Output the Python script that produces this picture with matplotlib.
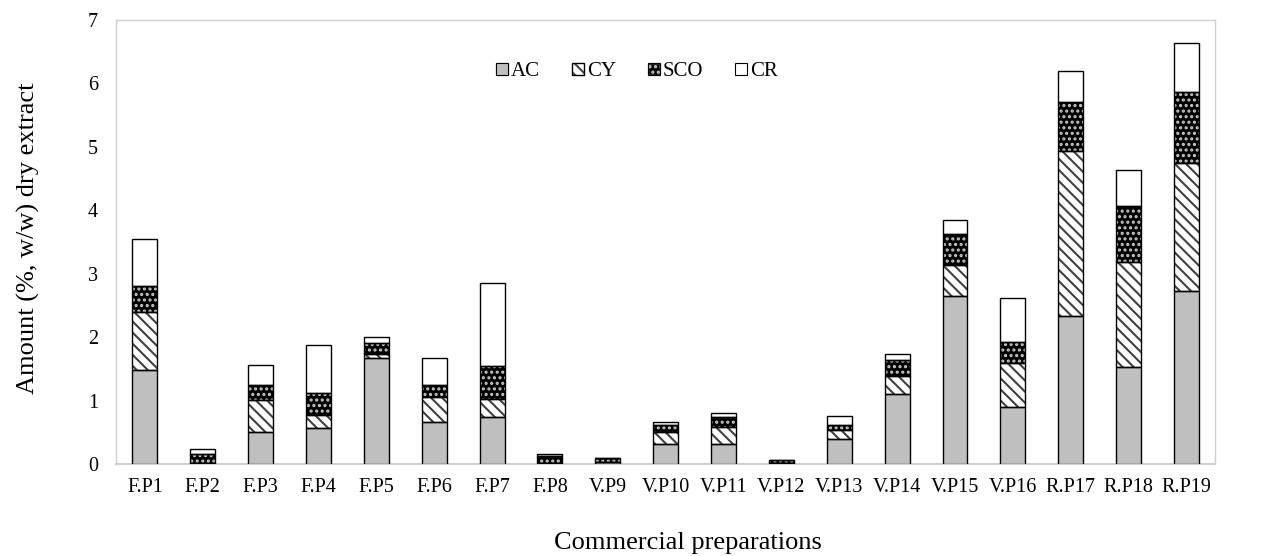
import matplotlib
matplotlib.use("Agg")
import matplotlib.pyplot as plt
import numpy as np
from matplotlib.patches import Patch

# values (%, w/w dry extract)
preparations = ["F.P1", "F.P2", "F.P3", "F.P4", "F.P5", "F.P6", "F.P7", "F.P8",
                "V.P9", "V.P10", "V.P11", "V.P12", "V.P13", "V.P14", "V.P15",
                "V.P16", "R.P17", "R.P18", "R.P19"]
ac = [1.48, 0.00, 0.51, 0.56, 1.67, 0.66, 0.74, 0.00, 0.03, 0.32, 0.32, 0.01,
      0.39, 1.10, 2.65, 0.90, 2.33, 1.53, 2.73]
cy = [0.92, 0.01, 0.50, 0.21, 0.06, 0.40, 0.29, 0.02, 0.00, 0.18, 0.26, 0.00,
      0.14, 0.28, 0.49, 0.69, 2.61, 1.65, 2.02]
sco = [0.41, 0.15, 0.24, 0.35, 0.17, 0.19, 0.51, 0.10, 0.06, 0.12, 0.16, 0.05,
       0.08, 0.26, 0.48, 0.33, 0.76, 0.88, 1.12]
cr = [0.74, 0.07, 0.31, 0.76, 0.11, 0.42, 1.32, 0.03, 0.00, 0.04, 0.07, 0.00,
      0.15, 0.09, 0.23, 0.70, 0.49, 0.57, 0.77]
yticks = [0, 1, 2, 3, 4, 5, 6, 7]


def main() -> None:
    plt.rcParams["font.family"] = ["Liberation Serif", "DejaVu Serif"]
    plt.rcParams["font.size"] = 14.5
    plt.rcParams["hatch.linewidth"] = 1.5

    fig = plt.figure(figsize=(12.7, 5.56), dpi=100)
    ax = fig.add_axes([0.0913, 0.1655, 0.8657, 0.7985])

    x = np.arange(len(preparations))
    width = 0.43
    ac_a = np.array(ac)
    cy_a = np.array(cy)
    sco_a = np.array(sco)
    cr_a = np.array(cr)
    bottoms = [np.zeros(len(x)), ac_a, ac_a + cy_a, ac_a + cy_a + sco_a]
    values = [ac_a, cy_a, sco_a, cr_a]

    # fill + hatch layer, then black outline on top
    styles = [
        dict(facecolor="#bfbfbf", edgecolor="#bfbfbf", hatch=None),
        dict(facecolor="white", edgecolor="#404040", hatch="\\\\\\"),
        dict(facecolor="black", edgecolor="#c8c8c8", hatch="..."),
        dict(facecolor="white", edgecolor="white", hatch=None),
    ]
    for vals, bot, st in zip(values, bottoms, styles):
        ax.bar(x, vals, width, bottom=bot, linewidth=0, zorder=2, **st)
        ax.bar(x, vals, width, bottom=bot, facecolor="none", edgecolor="black",
               linewidth=1.0, zorder=3)

    ax.set_xlim(-0.5, len(x) - 0.5)
    ax.set_ylim(0, 7)
    ax.set_yticks(yticks)
    ax.set_xticks(x)
    ax.set_xticklabels(preparations)
    ax.tick_params(axis="both", length=0)
    ax.tick_params(axis="x", pad=10)
    ax.tick_params(axis="y", pad=13)
    for spine in ax.spines.values():
        spine.set_color("#cfcfcf")
        spine.set_linewidth(1.0)
    ax.spines["bottom"].set_linewidth(1.5)

    # axis titles sit where the reference puts them (slightly right of centre)
    fig.text(0.5417, 0.0125, "Commercial preparations", fontsize=19,
             ha="center", va="baseline")
    fig.text(0.0225, 0.572, "Amount (%, w/w) dry extract", fontsize=19,
             rotation=90, ha="center", va="center")

    outline = dict(facecolor="none", edgecolor="black", linewidth=0.8)
    handles = [
        (Patch(facecolor="#bfbfbf", edgecolor="#bfbfbf"), Patch(**outline)),
        (Patch(facecolor="white", edgecolor="#404040", hatch="\\\\\\"), Patch(**outline)),
        (Patch(facecolor="black", edgecolor="#c8c8c8", hatch="..."), Patch(**outline)),
        (Patch(facecolor="white", edgecolor="white"), Patch(**outline)),
    ]
    ax.legend(handles, ["AC", "CY", "SCO", "CR"], loc="center",
              bbox_to_anchor=(0.474, 0.883), ncol=4, frameon=False,
              fontsize=15, handlelength=0.55, handleheight=0.55,
              handletextpad=0.15, columnspacing=1.55)

    fig.savefig("out.png", dpi=100)
    plt.close(fig)


if __name__ == "__main__":
    main()
